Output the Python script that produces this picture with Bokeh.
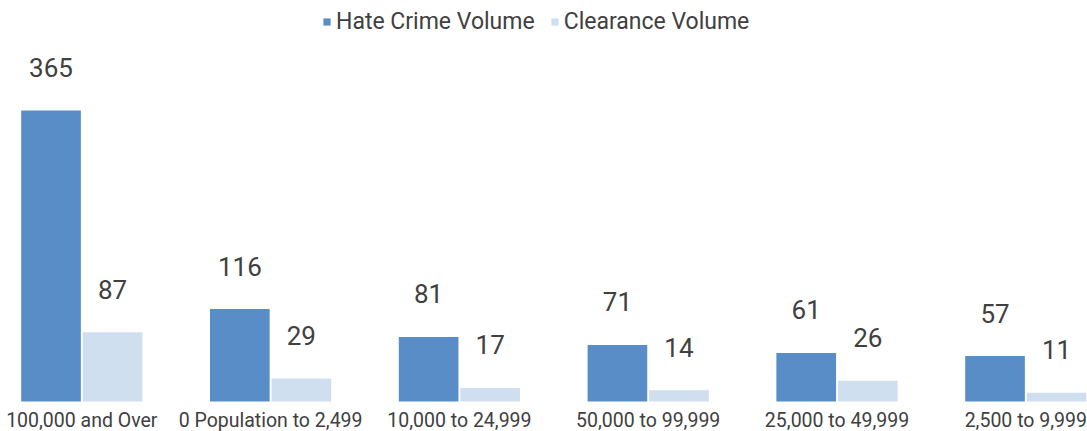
from bokeh.plotting import figure
from bokeh.models import Range1d
from bokeh.core.properties import value
from bokeh.embed import file_html
from bokeh.resources import INLINE

categories = ["100,000 and Over", "0 Population to 2,499", "10,000 to 24,999",
              "50,000 to 99,999", "25,000 to 49,999", "2,500 to 9,999"]
hate_crime_volume = [365, 116, 81, 71, 61, 57]
clearance_volume = [87, 29, 17, 14, 26, 11]

DARK = "#598DC7"
LIGHT = "#D0DFF0"
TEXT = "#404040"
FONT = "Roboto"

W, H = 1087, 431
p = figure(width=W, height=H, output_backend="svg", toolbar_location=None,
           x_range=Range1d(-0.4306, 5.3268), y_range=Range1d(-37.6, 503.1),
           x_axis_location=None, y_axis_location=None,
           min_border_left=0, min_border_right=0, min_border_top=0, min_border_bottom=0)

idx = list(range(len(categories)))
off = 0.163
bw = 0.316
x_dark = [i - off for i in idx]
x_light = [i + off for i in idx]

p.vbar(x=x_dark, top=hate_crime_volume, width=bw, color=DARK, line_color=None,
       legend_label="Hate Crime Volume")
p.vbar(x=x_light, top=clearance_volume, width=bw, color=LIGHT, line_color=None,
       legend_label="Clearance Volume")

for xs, vals in ((x_dark, hate_crime_volume), (x_light, clearance_volume)):
    p.text(x=xs, y=vals, text=[str(v) for v in vals], text_align="center",
           text_baseline="middle", y_offset=-43, text_font=value(FONT),
           text_font_size="26px", text_color=TEXT)

# category labels under each group
p.text(x=idx, y=[0] * len(idx), text=categories, text_align="center",
       text_baseline="middle", y_offset=19, text_font=value(FONT),
       text_font_size="19.5px", text_color=TEXT)

p.xgrid.visible = False
p.ygrid.visible = False
p.outline_line_color = None

lg = p.legend[0]
lg.orientation = "horizontal"
lg.location = (322, 396)
lg.border_line_color = None
lg.background_fill_alpha = 0
lg.label_text_font = FONT
lg.label_text_font_size = "23px"
lg.label_text_color = TEXT
lg.glyph_width = 9
lg.glyph_height = 9
lg.label_standoff = 5
lg.spacing = 15
lg.padding = 0
lg.margin = 0

open("out.html", "w").write(file_html(p, INLINE))
